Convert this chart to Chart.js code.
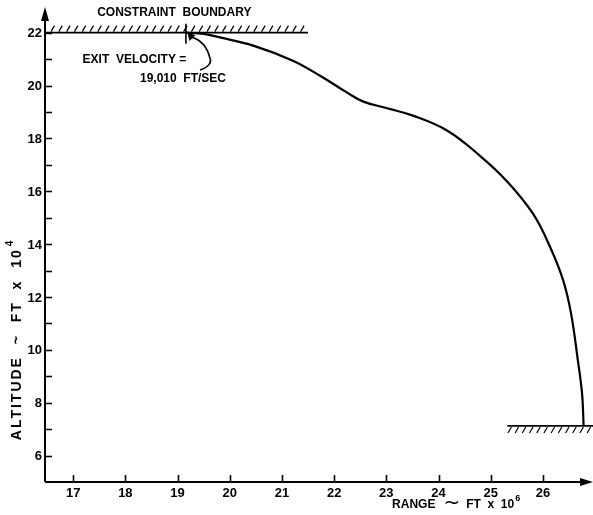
<!DOCTYPE html>
<html>
<head>
<meta charset="utf-8">
<script src="https://cdn.jsdelivr.net/npm/chart.js@4.4.1/dist/chart.umd.min.js"></script>
<style>
  html, body { margin: 0; padding: 0; background: #fff; }
  #wrap { width: 593px; height: 515px; }
</style>
</head>
<body>
<div id="wrap"><canvas id="c" width="593" height="515"></canvas></div>
<script>
// ---- data ----
const rangeX = [19.16, 19.5, 19.81, 20.45, 21.21, 21.73, 22.25, 22.56, 23.0, 23.51, 24.17, 24.8, 25.3, 25.81, 26.14, 26.39, 26.54, 26.67, 26.75, 26.78];
const altitudeY = [22.0, 21.95, 21.82, 21.51, 20.94, 20.37, 19.73, 19.39, 19.15, 18.86, 18.29, 17.33, 16.40, 15.15, 13.88, 12.62, 11.37, 9.60, 8.35, 7.14];

const xTickValues = [17, 18, 19, 20, 21, 22, 23, 24, 25, 26];
const xTickLabels = ['17', '18', '19', '20', '21', '22', '23', '24', '25', '26'];
const yTickValues = [6, 7, 8, 9, 10, 11, 12, 13, 14, 15, 16, 17, 18, 19, 20, 21, 22];
const yTickLabels = ['6', '', '8', '', '10', '', '12', '', '14', '', '16', '', '18', '', '20', '', '22'];

const upperConstraintX = [16.46, 21.5];
const upperConstraintY = [22, 22];
const lowerConstraintX = [25.32, 26.96];
const lowerConstraintY = [7.12, 7.12];
const exitMarkX = [19.16, 19.16];
const exitMarkY = [22.34, 21.58];

const xRange = [16.46, 26.96];
const yRange = [5, 22.97];

// annotation anchors (data coordinates)
const noteConstraint = { text: 'CONSTRAINT  BOUNDARY', x: 17.46, y: 22.74 };
const noteExit1 = { text: 'EXIT  VELOCITY =', x: 17.18, y: 20.96 };
const noteExit2 = { text: '19,010  FT/SEC', x: 18.28, y: 20.24 };
const arrowPathX = [19.43, 19.53, 19.62, 19.56, 19.26];
const arrowPathY = [20.59, 20.70, 21.04, 21.34, 21.83];
const arrowTip = { x: 19.19, y: 21.99 };

const toPts = (xs, ys) => xs.map((v, i) => ({ x: v, y: ys[i] }));

const deco = {
  id: 'deco',
  afterDraw(chart) {
    const { ctx, chartArea: a } = chart;
    const sx = chart.scales.x, sy = chart.scales.y;
    const X = v => sx.getPixelForValue(v), Y = v => sy.getPixelForValue(v);
    ctx.save();
    ctx.strokeStyle = '#000';
    ctx.fillStyle = '#000';
    ctx.lineCap = 'butt';

    // axes
    ctx.lineWidth = 2;
    ctx.beginPath();
    ctx.moveTo(a.left, a.bottom); ctx.lineTo(a.right - 8, a.bottom);
    ctx.moveTo(a.left, a.bottom); ctx.lineTo(a.left, a.top + 8);
    ctx.stroke();
    // arrowheads
    ctx.beginPath();
    ctx.moveTo(a.right, a.bottom); ctx.lineTo(a.right - 13, a.bottom - 4); ctx.lineTo(a.right - 13, a.bottom + 4); ctx.closePath();
    ctx.fill();
    ctx.beginPath();
    ctx.moveTo(a.left, a.top); ctx.lineTo(a.left - 4, a.top + 14); ctx.lineTo(a.left + 4, a.top + 14); ctx.closePath();
    ctx.fill();

    // ticks
    ctx.lineWidth = 1.6;
    ctx.beginPath();
    xTickValues.forEach(v => { const p = Math.round(X(v)) + 0.5; ctx.moveTo(p, a.bottom); ctx.lineTo(p, a.bottom - 7); });
    yTickValues.forEach(v => { const p = Math.round(Y(v)) + 0.5; ctx.moveTo(a.left, p); ctx.lineTo(a.left + 7, p); });
    ctx.stroke();

    // tick labels
    ctx.font = 'bold 13px "Liberation Sans", Arial, sans-serif';
    ctx.textAlign = 'center'; ctx.textBaseline = 'middle';
    xTickValues.forEach((v, i) => ctx.fillText(xTickLabels[i], X(v), a.bottom + 11));
    ctx.textAlign = 'right';
    yTickValues.forEach((v, i) => { if (yTickLabels[i]) ctx.fillText(yTickLabels[i], a.left - 3, Y(v) + 1); });

    // hatching
    ctx.lineWidth = 1.2;
    ctx.beginPath();
    for (let p = X(upperConstraintX[0]) + 6; p < X(upperConstraintX[1]) - 2; p += 7.8) {
      ctx.moveTo(p, Y(22) - 1); ctx.lineTo(p + 3.5, Y(22) - 7);
    }
    for (let p = X(lowerConstraintX[0]) + 4; p < X(lowerConstraintX[1]); p += 7.2) {
      ctx.moveTo(p - 3.5, Y(7.12) + 7); ctx.lineTo(p, Y(7.12) + 1);
    }
    ctx.stroke();

    // exit velocity arrow
    ctx.lineWidth = 1.6;
    ctx.beginPath();
    ctx.moveTo(X(arrowPathX[0]), Y(arrowPathY[0]));
    ctx.bezierCurveTo(X(arrowPathX[1]) + 4, Y(arrowPathY[1]), X(arrowPathX[2]) + 2, Y(arrowPathY[2]) + 4, X(arrowPathX[2]), Y(arrowPathY[2]));
    ctx.bezierCurveTo(X(arrowPathX[2]) - 2, Y(arrowPathY[3]), X(arrowPathX[3]) - 4, Y(arrowPathY[4]) + 3, X(arrowPathX[4]), Y(arrowPathY[4]));
    ctx.stroke();
    const tx = X(arrowTip.x), ty = Y(arrowTip.y);
    ctx.beginPath();
    ctx.moveTo(tx, ty); ctx.lineTo(tx + 8, ty + 2); ctx.lineTo(tx + 2, ty + 8); ctx.closePath();
    ctx.fill();

    // annotation text
    ctx.font = 'bold 12px "Liberation Sans", Arial, sans-serif';
    ctx.textAlign = 'left'; ctx.textBaseline = 'middle';
    [noteConstraint, noteExit1, noteExit2].forEach(n => ctx.fillText(n.text, X(n.x), Y(n.y)));

    // axis titles
    ctx.font = 'bold 12px "Liberation Sans", Arial, sans-serif';
    ctx.textBaseline = 'middle';
    // x title
    let px = X(23.11), py = a.bottom + 23;
    ctx.textAlign = 'left';
    ctx.fillText('RANGE', px, py);
    px += ctx.measureText('RANGE').width + 8;
    ctx.font = '20px "DejaVu Sans", sans-serif';
    ctx.fillText('~', px, py - 1);
    px += ctx.measureText('~').width + 6;
    ctx.font = 'bold 12px "Liberation Sans", Arial, sans-serif';
    ctx.fillText('FT  x  10', px, py);
    px += ctx.measureText('FT  x  10').width + 1;
    ctx.font = 'bold 9px "Liberation Sans", Arial, sans-serif';
    ctx.fillText('6', px, py - 6);

    // y title (rotated)
    ctx.save();
    ctx.translate(17, Y(10.4));
    ctx.rotate(-Math.PI / 2);
    ctx.font = 'bold 14px "Liberation Sans", Arial, sans-serif';
    ctx.letterSpacing = '2px';
    const main = 'ALTITUDE  ~  FT  x  10';
    const w = ctx.measureText(main).width;
    ctx.textAlign = 'left';
    ctx.fillText(main, -w / 2 - 5, 0);
    ctx.font = 'bold 10px "Liberation Sans", Arial, sans-serif';
    ctx.fillText('4', w / 2 - 3, -7);
    ctx.restore();

    ctx.restore();
  }
};

new Chart(document.getElementById('c'), {
  type: 'scatter',
  data: {
    datasets: [
      { data: toPts(rangeX, altitudeY), showLine: true, borderColor: '#000', borderWidth: 2.2, pointRadius: 0, tension: 0.4 },
      { data: toPts(upperConstraintX, upperConstraintY), showLine: true, borderColor: '#000', borderWidth: 1.8, pointRadius: 0 },
      { data: toPts(lowerConstraintX, lowerConstraintY), showLine: true, borderColor: '#000', borderWidth: 1.8, pointRadius: 0 },
      { data: toPts(exitMarkX, exitMarkY), showLine: true, borderColor: '#000', borderWidth: 1.6, pointRadius: 0 }
    ]
  },
  options: {
    responsive: false,
    devicePixelRatio: 1,
    animation: false,
    layout: { padding: { left: 45, right: 0, top: 7, bottom: 33 } },
    plugins: { legend: { display: false }, tooltip: { enabled: false } },
    scales: {
      x: { type: 'linear', display: false, min: xRange[0], max: xRange[1] },
      y: { type: 'linear', display: false, min: yRange[0], max: yRange[1] }
    }
  },
  plugins: [deco]
});
</script>
</body>
</html>
